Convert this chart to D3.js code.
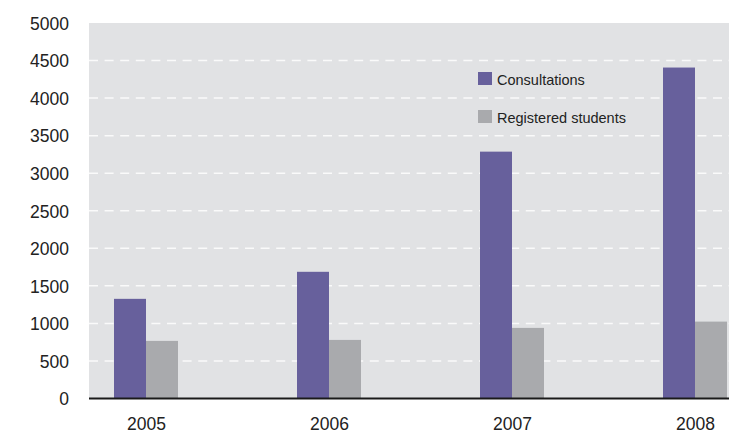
<!DOCTYPE html>
<html>
<head>
<meta charset="utf-8">
<script src="https://cdn.jsdelivr.net/npm/d3@7"></script>
<style>
  body { margin: 0; background: #fff; }
  text { font-family: "Liberation Sans", Arial, sans-serif; }
</style>
</head>
<body>
<div id="chart"></div>
<script>
// chart data
const years = ['2005', '2006', '2007', '2008'];
const consultations = [1327, 1687, 3287, 4407];
const registered = [767, 780, 940, 1024];
const yTicks = [0, 500, 1000, 1500, 2000, 2500, 3000, 3500, 4000, 4500, 5000];
const seriesNames = ['Consultations', 'Registered students'];

const W = 729, H = 435;
const plot = { left: 89, top: 23, right: 729, bottom: 398.5 };
const BAR_W = 32;
const colors = ['#67609c', '#a9aaad'];

const svg = d3.select('#chart').append('svg')
    .attr('width', W)
    .attr('height', H);

const y = d3.scaleLinear().domain([0, 5000]).range([plot.bottom, plot.top]);
// group centre = boundary between the two bars
const x = d3.scalePoint().domain(years).range([146, 695]);

// background panel
svg.append('rect')
    .attr('x', plot.left)
    .attr('y', plot.top)
    .attr('width', plot.right - plot.left)
    .attr('height', plot.bottom - plot.top)
    .attr('fill', '#e1e2e4');

// dashed white gridlines
svg.append('g')
    .selectAll('line')
    .data(yTicks.filter(d => d > 0 && d < 5000))
    .enter()
    .append('line')
    .attr('x1', plot.left)
    .attr('x2', plot.right)
    .attr('y1', d => y(d))
    .attr('y2', d => y(d))
    .attr('stroke', '#fafafa')
    .attr('stroke-width', 1.5)
    .attr('stroke-dasharray', '9,6.6');

// bars
const rows = years.map((yr, i) => ({ year: yr, c: consultations[i], r: registered[i] }));

svg.append('g').selectAll('rect')
    .data(rows)
    .enter()
    .append('rect')
    .attr('x', d => x(d.year) - BAR_W)
    .attr('y', d => y(d.c))
    .attr('width', BAR_W)
    .attr('height', d => y(0) - y(d.c))
    .attr('fill', colors[0]);

svg.append('g').selectAll('rect')
    .data(rows)
    .enter()
    .append('rect')
    .attr('x', d => x(d.year))
    .attr('y', d => y(d.r))
    .attr('width', BAR_W)
    .attr('height', d => y(0) - y(d.r))
    .attr('fill', colors[1]);

// y axis labels
const yAxis = d3.axisLeft(y).tickValues(yTicks).tickSize(0).tickPadding(0).tickFormat(d3.format('d'));
const gy = svg.append('g')
    .attr('transform', `translate(${69},0)`)
    .call(yAxis);
gy.select('.domain').remove();
gy.selectAll('text')
    .attr('font-size', 17.5)
    .attr('font-family', '"Liberation Sans", Arial, sans-serif')
    .attr('fill', '#222')
    .attr('dy', '0.36em');

// x axis
const xAxis = d3.axisBottom(x).tickSize(0).tickPadding(0);
const gx = svg.append('g')
    .attr('transform', `translate(0,${plot.bottom})`)
    .call(xAxis);
gx.select('.domain').remove();
gx.selectAll('text')
    .attr('font-size', 17.5)
    .attr('font-family', '"Liberation Sans", Arial, sans-serif')
    .attr('fill', '#222')
    .attr('dy', null)
    .attr('y', 31.5);

svg.append('line')
    .attr('x1', plot.left)
    .attr('x2', plot.right)
    .attr('y1', plot.bottom)
    .attr('y2', plot.bottom)
    .attr('stroke', '#1a1a1a')
    .attr('stroke-width', 2);

// legend
const legend = svg.append('g').attr('transform', 'translate(478,72)');
seriesNames.forEach((name, i) => {
    const g = legend.append('g').attr('transform', `translate(0,${i * 38})`);
    g.append('rect')
        .attr('width', 14)
        .attr('height', 13)
        .attr('fill', colors[i]);
    g.append('text')
        .attr('x', 19)
        .attr('y', 12.5)
        .attr('font-size', 14.5)
        .attr('fill', '#222')
        .text(name);
});
</script>
</body>
</html>
